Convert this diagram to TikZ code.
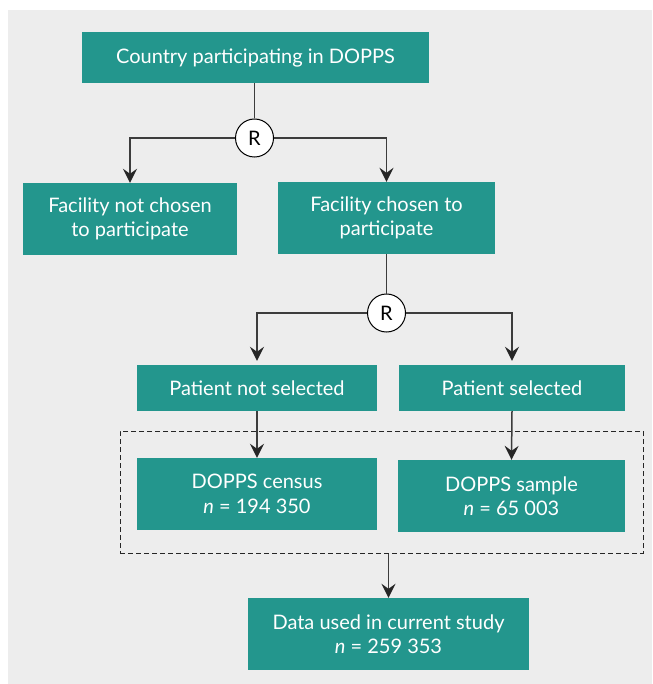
\documentclass[tikz,border=0pt]{standalone}
\usepackage{fontspec}
\setmainfont{Lato}
\usetikzlibrary{arrows.meta}
\definecolor{boxteal}{RGB}{35,150,141}
\definecolor{bggray}{RGB}{237,237,237}
\definecolor{linegray}{RGB}{60,60,60}
\tikzset{
  tbox/.style={fill=boxteal, text=white, draw=none, inner sep=0pt, align=center,
    font=\fontsize{20}{24.5}\selectfont},
  rnode/.style={circle, draw=black, fill=white, line width=1pt, minimum size=38pt, inner sep=0pt,
    font=\fontsize{20}{22}\selectfont},
  conn/.style={draw=linegray, line width=1.5pt},
  arr/.style={conn, -{Stealth[length=14pt, width=14pt, inset=5pt, color=black!85]}},
  grpbox/.style={draw=black!85, dashed, dash pattern=on 5pt off 3pt, line width=1pt, inner sep=0pt}
}
\begin{document}
\begin{tikzpicture}[x=1pt, y=-1pt]
\useasboundingbox (0,0) rectangle (652,684);
\fill[bggray] (8,10) rectangle (652,684);

\node[grpbox, minimum width=523pt, minimum height=122pt] (grp) at (381.5,492) {};

\node[tbox, minimum width=347pt, minimum height=51pt] (country) at (255.5,57.5) {Country participating in DOPPS};
\node[rnode] (r1) at (254.5,138) {R};
\node[tbox, minimum width=214pt, minimum height=72pt] (facnot) at (130,219) {Facility not chosen\\to participate};
\node[tbox, minimum width=217pt, minimum height=72pt] (facch) at (386.5,218) {Facility chosen to\\participate};
\node[rnode] (r2) at (386.5,313) {R};
\node[tbox, minimum width=240pt, minimum height=46pt] (patnot) at (257,388) {Patient not selected};
\node[tbox, minimum width=226pt, minimum height=46pt] (patsel) at (512,388) {Patient selected};
\node[tbox, minimum width=240pt, minimum height=72pt] (census) at (257,494) {DOPPS census\\\textit{n} = 194 350};
\node[tbox, minimum width=227pt, minimum height=72pt] (sample) at (511.5,496) {DOPPS sample\\\textit{n} = 65 003};
\node[tbox, minimum width=281pt, minimum height=72pt] (data) at (388.5,634) {Data used in current study\\\textit{n} = 259 353};

\draw[conn] (r1.north |- country.south) -- (r1.north);
\draw[arr] (r1.west) -| (facnot.north);
\draw[arr] (r1.east) -| (facch.north);
\draw[conn] (facch.south) -- (r2.north);
\draw[arr, shorten >=4pt] (r2.west) -| (patnot.north);
\draw[arr, shorten >=4pt] (r2.east) -| (patsel.north);
\draw[arr] (patnot.south) -- (census.north);
\draw[arr] (patsel.south) -- (sample.north);
\draw[arr] (data.north |- grp.south) -- (data.north);
\end{tikzpicture}
\end{document}
